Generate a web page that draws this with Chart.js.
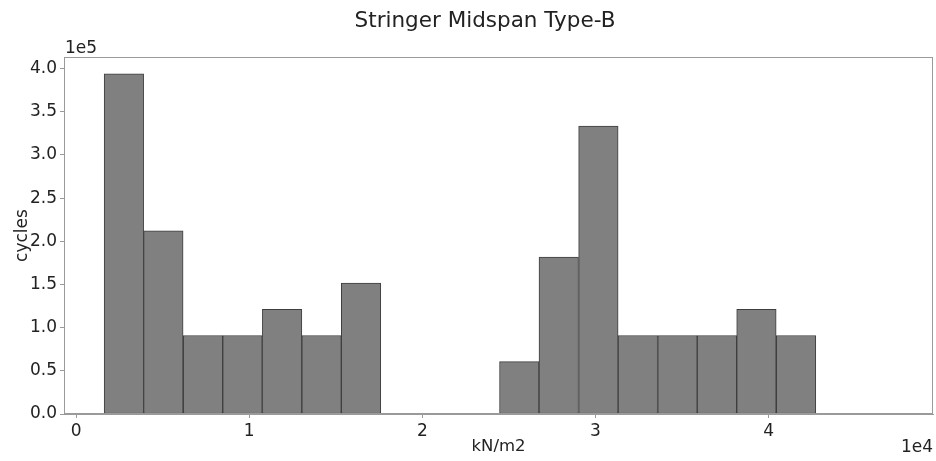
<!DOCTYPE html>
<html>
<head>
<meta charset="utf-8">
<title>Stringer Midspan Type-B</title>
<script src="https://cdn.jsdelivr.net/npm/chart.js@4.4.1/dist/chart.umd.min.js"></script>
<style>
  html, body { margin: 0; padding: 0; background: #fff; }
  #wrap { width: 936px; height: 461px; }
</style>
</head>
<body>
<div id="wrap"><canvas id="histChart" width="936" height="461"></canvas></div>
<script>
// Histogram bins (bin centres, kN/m2) and counts (cycles)
const binCentres = [2760, 5040, 7330, 9610, 11900, 14180, 16460, 18750, 21030,
                    23320, 25600, 27880, 30170, 32450, 34740, 37020, 39300, 41590];
const cycleCounts = [393900, 212100, 90900, 90900, 121200, 90900, 151500, 0, 0,
                     0, 60600, 181800, 333300, 90900, 90900, 90900, 121200, 90900];

// tick positions (labels are shown scaled by the offset text)
const xTickValues = [0, 10000, 20000, 30000, 40000];
const yTickValues = [0, 50000, 100000, 150000, 200000, 250000, 300000, 350000, 400000];

const chartTitle = 'Stringer Midspan Type-B';
const xLabel = 'kN/m2';
const yLabel = 'cycles';
const xOffsetText = '1e4';
const yOffsetText = '1e5';

Chart.defaults.font.family = '"DejaVu Sans", sans-serif';
Chart.defaults.color = '#222';

const axisGrey = '#9a9a9a';

// matplotlib style box, title over the figure and the offset labels
const framePlugin = {
    id: 'frame',
    afterDraw(chart) {
        const { ctx, chartArea: a } = chart;
        ctx.save();
        ctx.strokeStyle = axisGrey;
        ctx.lineWidth = 1;
        ctx.strokeRect(a.left + 0.5, a.top + 0.5, a.right - a.left - 1, a.bottom - a.top - 1);

        ctx.fillStyle = '#222';
        ctx.font = '21.5px "DejaVu Sans", sans-serif';
        ctx.textAlign = 'center';
        ctx.textBaseline = 'middle';
        ctx.fillText(chartTitle, 485, 21);

        ctx.font = '17px "DejaVu Sans", sans-serif';
        ctx.textAlign = 'left';
        ctx.textBaseline = 'alphabetic';
        ctx.fillText(yOffsetText, a.left + 1, a.top - 4);
        ctx.textAlign = 'right';
        ctx.fillText(xOffsetText, a.right, 452);
        ctx.restore();
    }
};

const ctx = document.getElementById('histChart').getContext('2d');
new Chart(ctx, {
    type: 'bar',
    data: {
        datasets: [{
            data: binCentres.map((x, i) => ({ x: x, y: cycleCounts[i] })),
            backgroundColor: '#808080',
            borderColor: '#3e3e3e',
            borderWidth: (c) => (c.raw && c.raw.y > 0 ? 1 : 0),
            borderSkipped: false,
            barPercentage: 1.0,
            categoryPercentage: 1.0
        }]
    },
    options: {
        responsive: false,
        animation: false,
        layout: { padding: { left: 0, right: 3, top: 57, bottom: 0 } },
        plugins: {
            legend: { display: false },
            tooltip: { enabled: false },
            title: { display: false }
        },
        scales: {
            x: {
                type: 'linear',
                offset: false,
                min: -700,
                max: 49500,
                grid: { offset: false, drawOnChartArea: false, drawTicks: true, tickLength: 4, color: axisGrey },
                border: { display: true, color: axisGrey },
                ticks: {
                    padding: 3,
                    maxRotation: 0,
                    autoSkip: false,
                    font: { size: 17 },
                    callback: (v) => String(v / 10000)
                },
                afterBuildTicks(scale) {
                    scale.ticks = xTickValues.map(v => ({ value: v }));
                },
                title: {
                    display: true,
                    text: xLabel,
                    font: { size: 16.5 },
                    padding: { top: 0, bottom: 4 }
                },
                afterFit(scale) { scale.height = 47; }
            },
            y: {
                min: 0,
                max: 413400,
                grid: { drawOnChartArea: false, drawTicks: true, tickLength: 4, color: axisGrey },
                border: { display: true, color: axisGrey },
                ticks: {
                    padding: 3,
                    autoSkip: false,
                    font: { size: 17 },
                    callback: (v) => (v / 100000).toFixed(1)
                },
                afterBuildTicks(scale) {
                    scale.ticks = yTickValues.map(v => ({ value: v }));
                },
                title: {
                    display: true,
                    text: yLabel,
                    font: { size: 17 },
                    padding: { top: 12, bottom: 0 }
                },
                afterFit(scale) { scale.width = 64; }
            }
        }
    },
    plugins: [framePlugin]
});
</script>
</body>
</html>
